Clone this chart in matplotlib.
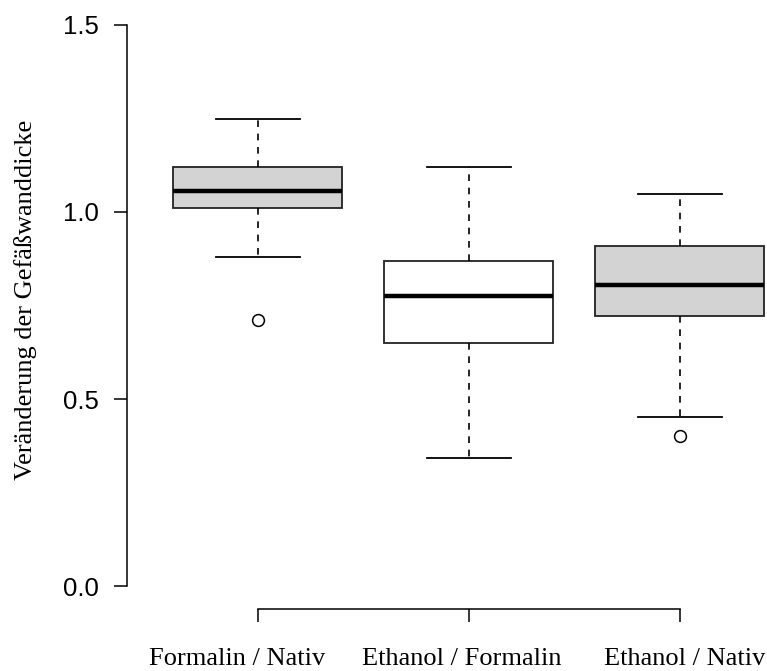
import matplotlib
matplotlib.use("Agg")
import matplotlib.pyplot as plt

categories = ["Formalin / Nativ", "Ethanol / Formalin", "Ethanol / Nativ"]
whislo = [0.880, 0.343, 0.451]
q1 = [1.010, 0.651, 0.721]
med = [1.055, 0.775, 0.805]
q3 = [1.119, 0.870, 0.910]
whishi = [1.249, 1.119, 1.049]
fliers = [[0.711], [], [0.401]]
box_colors = ["#D3D3D3", "#FFFFFF", "#D3D3D3"]
yticks = [0.0, 0.5, 1.0, 1.5]
ylabel = "Veränderung der Gefäßwanddicke"
# small horizontal nudges of the category labels (points), as in the reference
label_nudge = [-15, -5, 3.6]

fig = plt.figure(figsize=(7.67, 6.71), dpi=100)
# axes extends past the right edge like the cropped reference
ax = fig.add_axes([127 / 767, 1 - 608.5 / 671, 683.6 / 767, 606 / 671])

positions = list(range(1, len(categories) + 1))
stats = []
for i in range(len(categories)):
    stats.append(dict(med=med[i], q1=q1[i], q3=q3[i], whislo=whislo[i],
                      whishi=whishi[i], fliers=fliers[i], label=categories[i]))

bp = ax.bxp(stats, positions=positions, widths=0.8, capwidths=0.4,
            patch_artist=True, showfliers=True,
            boxprops=dict(edgecolor="#222222", linewidth=1.3),
            medianprops=dict(color="black", linewidth=3.2, solid_capstyle="butt"),
            whiskerprops=dict(color="black", linewidth=1.2, linestyle=(0, (4, 4))),
            capprops=dict(color="black", linewidth=1.3),
            flierprops=dict(marker="o", markersize=8.5, markerfacecolor="none",
                            markeredgecolor="black", markeredgewidth=1.1))
for patch, c in zip(bp["boxes"], box_colors):
    patch.set_facecolor(c)

ax.set_xlim(0.38, 3.62)
ax.set_ylim(-0.06, 1.56)

for s in ["top", "right"]:
    ax.spines[s].set_visible(False)
ax.spines["left"].set_bounds(0.0, 1.5)
ax.spines["bottom"].set_bounds(1, 3)
for s in ["left", "bottom"]:
    ax.spines[s].set_linewidth(1.1)

ax.set_yticks(yticks)
ax.set_yticklabels([f"{v:.1f}" for v in yticks], family="Liberation Sans", fontsize=18.5)
ax.set_xticks(positions)
ax.set_xticklabels([""] * len(positions))
ax.tick_params(axis="y", length=9.5, width=1.1, pad=10.5)
ax.tick_params(axis="x", length=9.5, width=1.1)

for p, name, dx in zip(positions, categories, label_nudge):
    ax.annotate(name, xy=(p, 0), xycoords=ax.get_xaxis_transform(),
                xytext=(dx, -41), textcoords="offset points",
                ha="center", va="baseline", family="Liberation Serif",
                fontsize=19, annotation_clip=False)

fig.text(26 / 767, 1 - 300 / 671, ylabel, rotation=90, ha="center", va="center",
         family="Liberation Serif", fontsize=19)

fig.savefig("out.png", dpi=100)
